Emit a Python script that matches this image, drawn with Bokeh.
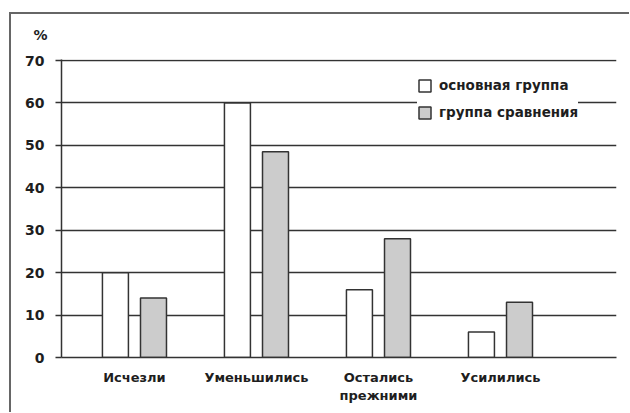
from bokeh.plotting import figure
from bokeh.models import (ColumnDataSource, FixedTicker, Legend, LegendItem,
                          Title, Range1d)
from bokeh.transform import dodge
from bokeh.embed import file_html
from bokeh.resources import INLINE

categories = ["Исчезли", "Уменьшились", "Остались\nпрежними", "Усилились"]
main_group = [20, 60, 16, 6]
comparison_group = [14, 48.5, 28, 13]
series_names = ["основная группа", "группа сравнения"]
y_ticks = [0, 10, 20, 30, 40, 50, 60, 70]
unit_label = "%"

FONT = "DejaVu Sans"
INK = "#1e1e1e"
LINE = "#333333"

xs = list(range(len(categories)))
src = ColumnDataSource(dict(x=xs, main=main_group, comp=comparison_group))

p = figure(frame_width=555, frame_height=298,
           min_border_left=61, min_border_top=59,
           min_border_right=13, min_border_bottom=55,
           x_range=Range1d(-0.598, 3.951), y_range=Range1d(0, 70.25),
           output_backend="svg", toolbar_location=None)
p.outline_line_color = None
p.background_fill_color = "white"
p.border_fill_color = "white"
p.border_fill_alpha = 0.0
p.styles = {
    "background": ("linear-gradient(#666666,#666666) 9px 12px / 640px 2px no-repeat, "
                   "linear-gradient(#666666,#666666) 9px 12px / 2px 420px no-repeat, "
                   "white"),
}

r1 = p.vbar(x=dodge("x", -0.156), top="main", width=0.213, source=src,
            fill_color="white", line_color=LINE, line_width=1.5)
r2 = p.vbar(x=dodge("x", 0.156), top="comp", width=0.213, source=src,
            fill_color="#cccccc", line_color=LINE, line_width=1.5)

# axes
xa = p.xaxis[0]
xa.ticker = FixedTicker(ticks=xs)
xa.major_label_overrides = {i: c for i, c in zip(xs, categories)}
xa.major_tick_line_color = None
xa.minor_tick_line_color = None
xa.axis_line_color = LINE
xa.axis_line_width = 1.5
xa.major_label_standoff = 6
xa.major_label_text_font = FONT
xa.major_label_text_font_style = "bold"
xa.major_label_text_font_size = "13px"
xa.major_label_text_color = INK

ya = p.yaxis[0]
ya.ticker = FixedTicker(ticks=y_ticks)
ya.minor_tick_line_color = None
ya.major_tick_out = 6
ya.major_tick_in = 0
ya.major_tick_line_color = LINE
ya.major_tick_line_width = 1.5
ya.axis_line_color = LINE
ya.axis_line_width = 1.5
ya.major_label_standoff = 11
ya.major_label_text_font = FONT
ya.major_label_text_font_style = "bold"
ya.major_label_text_font_size = "14px"
ya.major_label_text_color = INK

p.xgrid.grid_line_color = None
p.ygrid.ticker = FixedTicker(ticks=y_ticks)
p.ygrid.grid_line_color = LINE
p.ygrid.grid_line_width = 1.5

legend = Legend(items=[LegendItem(label=series_names[0], renderers=[r1]),
                       LegendItem(label=series_names[1], renderers=[r2])],
                location=(356, 237))
legend.border_line_color = None
legend.background_fill_color = "white"
legend.background_fill_alpha = 1.0
legend.padding = 7
legend.margin = 0
legend.glyph_width = 15
legend.glyph_height = 15
legend.label_height = 15
legend.label_standoff = 7
legend.spacing = 11
legend.label_text_font = FONT
legend.label_text_font_style = "bold"
legend.label_text_font_size = "13.5px"
legend.label_text_color = INK
p.add_layout(legend)

p.add_layout(Title(text=unit_label, align="left", offset=-28, standoff=34,
                   text_font=FONT, text_font_style="bold",
                   text_font_size="14px", text_color=INK), "above")

open("out.html", "w").write(file_html(p, INLINE))
